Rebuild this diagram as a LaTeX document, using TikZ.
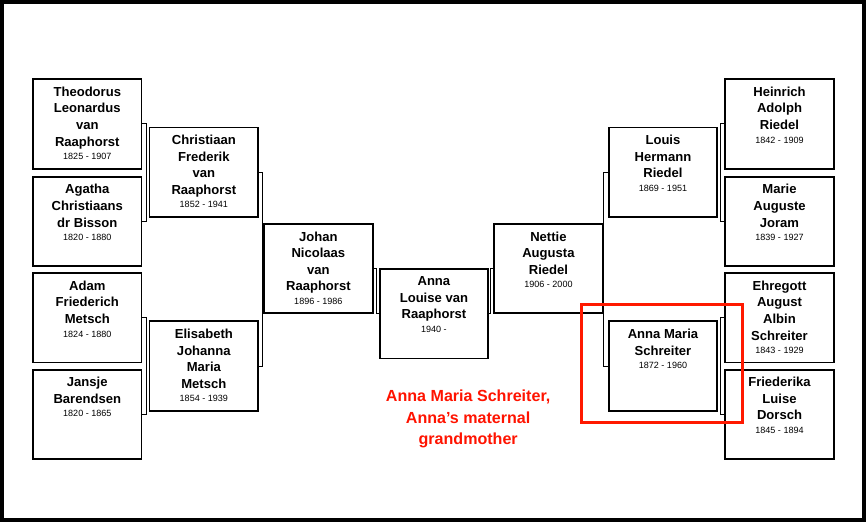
\documentclass[tikz,border=0pt]{standalone}
\usepackage{fontspec}
\setmainfont{Liberation Sans}
\usetikzlibrary{positioning}
\begin{document}
\begin{tikzpicture}[x=1pt, y=-1pt,
person/.style={draw, line width=1.8pt, minimum width=108pt, minimum height=89pt, anchor=north west, inner sep=0pt},
who/.style={anchor=north, align=center, font=\fontsize{13}{16.5}\selectfont\bfseries},
link/.style={line width=1pt}
]
\newcommand{\yrs}[1]{\\[-3pt]{\fontsize{9}{11}\selectfont\mdseries #1}}
\newcommand{\person}[4]{\node[person] (#1) at (#2) {};
  \node[who] at ([yshift=-5pt]#1.north) {#3\yrs{#4}};}

% frame
\draw[line width=4pt] (4,4) rectangle (862,520);

% ====== Paternal side ======
\person{theo}{34,80}{Theodorus\\Leonardus\\van\\Raaphorst}{1825 - 1907}
\person{agatha}{34,177}{Agatha\\Christiaans\\dr Bisson}{1820 - 1880}
\person{adam}{34,273}{Adam\\Friederich\\Metsch}{1824 - 1880}
\person{jansje}{34,369}{Jansje\\Barendsen}{1820 - 1865}
\person{christiaan}{150,128}{Christiaan\\Frederik\\van\\Raaphorst}{1852 - 1941}
\person{elisabeth}{150,321}{Elisabeth\\Johanna\\Maria\\Metsch}{1854 - 1939}
\person{johan}{264,224}{Johan\\Nicolaas\\van\\Raaphorst}{1896 - 1986}

% ====== Centre ======
\person{anna}{379,269}{Anna\\Louise van\\Raaphorst}{1940 -}

% ====== Maternal side ======
\person{nettie}{493,224}{Nettie\\Augusta\\Riedel}{1906 - 2000}
\person{louis}{607,128}{Louis\\Hermann\\Riedel}{1869 - 1951}
\person{annamaria}{607,321}{Anna Maria\\Schreiter}{1872 - 1960}
\person{heinrich}{723,80}{Heinrich\\Adolph\\Riedel}{1842 - 1909}
\person{marie}{723,177}{Marie\\Auguste\\Joram}{1839 - 1927}
\person{ehregott}{723,273}{Ehregott\\August\\Albin\\Schreiter}{1843 - 1929}
\person{friederika}{723,369}{Friederika\\Luise\\Dorsch}{1845 - 1894}

% ====== Connections ======
\draw[link] (theo.east) -- ++(4,0) |- (agatha.east);
\draw[link] (adam.east) -- ++(4,0) |- (jansje.east);
\draw[link] (christiaan.east) -- ++(3,0) |- (elisabeth.east);
\draw[link] (louis.west) -- ++(-4,0) |- (annamaria.west);
\draw[link] (heinrich.west) -- ++(-4,0) |- (marie.west);
\draw[link] (ehregott.west) -- ++(-4,0) |- (friederika.west);
\draw[link] (johan.east) -- ++(3,0) |- (anna.west);
\draw[link] (nettie.west) -- ++(-3,0) |- (anna.east);

% ====== Highlight ======
\draw[red!80!orange, line width=3pt] (581,305) rectangle (741,423);
\node[align=center, text=red!85!orange, font=\fontsize{16}{21}\selectfont\bfseries] (note) at (468,419) {Anna Maria Schreiter,\\Anna's maternal\\grandmother};
\end{tikzpicture}
\end{document}
